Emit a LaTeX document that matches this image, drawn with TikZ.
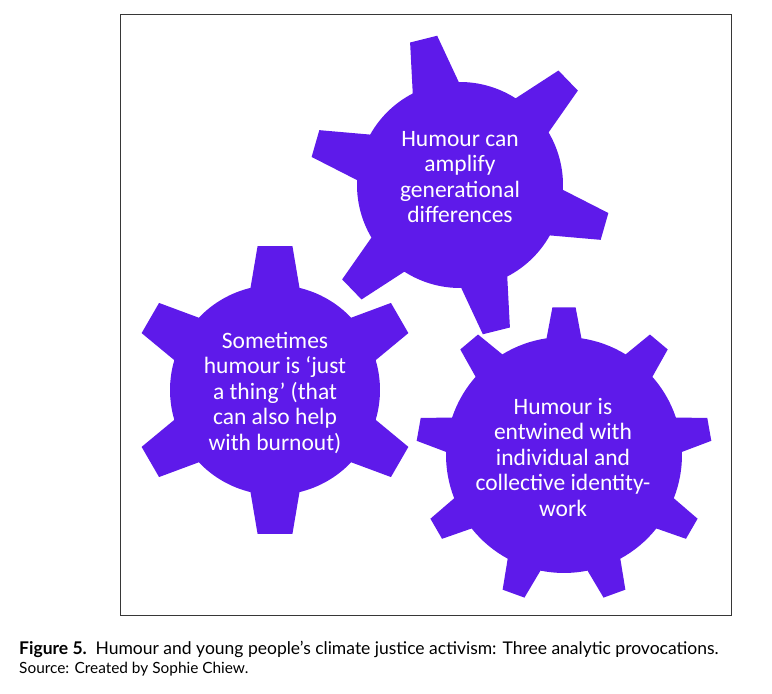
\documentclass[tikz,border=0pt]{standalone}
\usepackage{fontspec}
\setmainfont{Carlito}
\newfontfamily\capfont{Lato}
\usepackage{xcolor}
\definecolor{gearpurple}{RGB}{94,26,234}
\definecolor{framegray}{RGB}{55,55,55}
\tikzset{
  gearfill/.style={fill=gearpurple, draw=none},
  geartext/.style={text=white, align=center, font=\fontsize{23.5}{25.5}\selectfont},
  captext/.style={anchor=base west, inner sep=0pt},
}
% cog: centre, teeth, first tooth angle, body radius, tip radius, half base angle, half tip angle
\newcommand{\cog}[7]{%
  \begin{scope}[shift={#1}]
    \pgfmathsetmacro\cogstep{360/#2}
    \pgfmathtruncatemacro\coglast{#2-1}
    \fill[gearfill] ({#3-#6}:#4)
      \foreach \k in {0,...,\coglast} {
        -- ({#3+\k*\cogstep-#7}:#5) -- ({#3+\k*\cogstep+#7}:#5)
        -- ({#3+\k*\cogstep+#6}:#4)
        arc[start angle={#3+\k*\cogstep+#6}, end angle={#3+(\k+1)*\cogstep-#6}, radius=#4]
      } -- cycle;
  \end{scope}}

\begin{document}
\begin{tikzpicture}[x=1pt, y=1pt]
  \useasboundingbox (0,0) rectangle (772,694);
  % Frame
  \draw[framegray, line width=1.5pt] (120.5,679.5) rectangle (731.5,78.3);
  % Cogs
  \cog{(460,509)}{6}{104}{103}{151}{13.3}{5.3}
  \cog{(275,304)}{6}{90}{105}{145}{13.5}{6.9}
  \cog{(564,239)}{9}{90}{118}{148}{8.5}{4.5}
  % Labels
  \node[geartext] (amplify) at (460,517) {Humour can\\amplify\\generational\\differences};
  \node[geartext] (thing) at (275,301) {Sometimes\\humour is ‘just\\a thing’ (that\\can also help\\with burnout)};
  \node[geartext] (identity) at (563,237) {Humour is\\entwined with\\individual and\\collective identity-\\work};
  % Caption
  \node[captext, font=\capfont\fontsize{17.5}{21}\selectfont] (figcap) at (19,39)
    {\textbf{Figure 5.}\enspace Humour and young people’s climate justice activism: Three analytic provocations.};
  \node[captext, font=\capfont\fontsize{15.4}{18}\selectfont] (source) at (19,20)
    {Source: Created by Sophie Chiew.};
\end{tikzpicture}
\end{document}
